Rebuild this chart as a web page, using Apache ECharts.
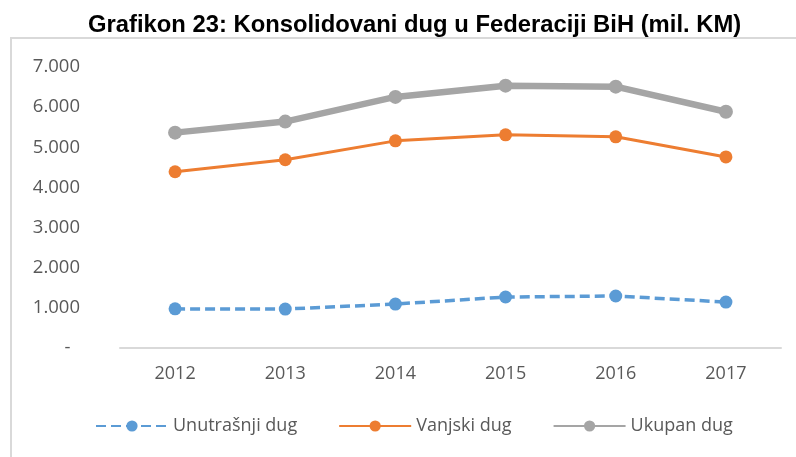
<!DOCTYPE html>
<html lang="bs">
<head>
    <meta charset="UTF-8">
    <title>Grafikon 23</title>
    <script src="https://cdn.jsdelivr.net/npm/echarts@6/dist/echarts.min.js"></script>
    <style>
        body { margin: 0; background: #fff; }
    </style>
</head>
<body>
    <div id="main" style="width: 796px; height: 457px;"></div>
<script>
    // godine i vrijednosti (mil. KM)
    var godine = ['2012', '2013', '2014', '2015', '2016', '2017'];
    var unutrasnji = [975, 970, 1095, 1270, 1295, 1145];
    var vanjski = [4390, 4690, 5160, 5310, 5260, 4760];
    var ukupan = [5365, 5640, 6255, 6535, 6510, 5885];

    var myChart = echarts.init(document.getElementById('main'));
    var font = 'Open Sans';

    var option = {
        backgroundColor: '#fff',
        title: {
            text: 'Grafikon 23: Konsolidovani dug u Federaciji BiH (mil. KM)',
            left: 83,
            top: 8,
            textStyle: { fontFamily: 'Liberation Sans', fontSize: 23.8, fontWeight: 'bold', color: '#000' }
        },
        graphic: [{
            type: 'polyline',
            shape: { points: [[11, 470], [11, 38], [800, 38]] },
            style: { stroke: '#d9d9d9', lineWidth: 2, fill: null },
            silent: true
        }],
        legend: {
            left: 90,
            top: 412,
            itemWidth: 72,
            itemHeight: 14,
            itemGap: 41,
            textStyle: { fontFamily: font, fontSize: 18, color: '#595959' },
            data: ['Unutrašnji dug', 'Vanjski dug', 'Ukupan dug']
        },
        grid: { left: 120, right: 15, top: 67, bottom: 109 },
        xAxis: {
            type: 'category',
            data: godine,
            boundaryGap: true,
            axisLine: { lineStyle: { color: '#d9d9d9', width: 2 } },
            axisTick: { show: false },
            axisLabel: { fontFamily: font, fontSize: 18, color: '#595959', margin: 17 }
        },
        yAxis: {
            type: 'value',
            min: 0,
            max: 7000,
            interval: 1000,
            splitLine: { show: false },
            axisLine: { show: false },
            axisTick: { show: false },
            axisLabel: {
                fontFamily: font, fontSize: 18.5, color: '#595959', margin: 40,
                formatter: function (v) {
                    if (v === 0) return '-  ';
                    return (v / 1000) + '.000';
                }
            }
        },
        series: [{
            name: 'Unutrašnji dug',
            type: 'line',
            data: unutrasnji,
            color: '#5B9BD5',
            symbol: 'circle',
            symbolSize: 13,
            lineStyle: { width: 3.5, type: [10, 5] },
            z: 3
        }, {
            name: 'Vanjski dug',
            type: 'line',
            data: vanjski,
            color: '#ED7D31',
            symbol: 'circle',
            symbolSize: 13,
            lineStyle: { width: 3 },
            z: 4
        }, {
            name: 'Ukupan dug',
            type: 'line',
            data: ukupan,
            color: '#A5A5A5',
            symbol: 'circle',
            symbolSize: 14,
            lineStyle: { width: 6.5 },
            z: 2
        }]
    };
    myChart.setOption(option);
</script>
</body>
</html>
